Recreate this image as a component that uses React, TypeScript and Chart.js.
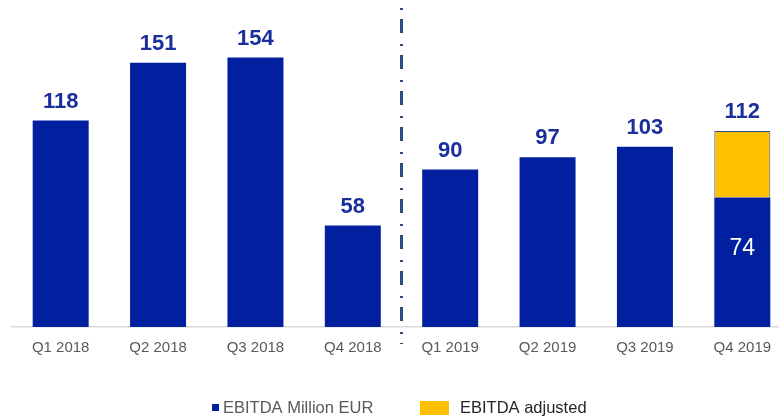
import React, { useEffect, useRef } from 'react';
import { Chart, registerables } from 'chart.js';

Chart.register(...registerables);

const categories = ['Q1 2018', 'Q2 2018', 'Q3 2018', 'Q4 2018', 'Q1 2019', 'Q2 2019', 'Q3 2019', 'Q4 2019'];
const ebitda = [118, 151, 154, 58, 90, 97, 103, 74];
const adjusted = [null, null, null, null, null, null, null, 38];
const totals = [118, 151, 154, 58, 90, 97, 103, 112];
const seriesNames = ['EBITDA Million EUR', 'EBITDA adjusted'];
const innerLabelIndex = 7;
const dividerAfterIndex = 3;

const BLUE = '#00209F';
const YELLOW = '#FFC000';
const LABEL_BLUE = '#1A2F9C';
const FONT = "'Liberation Sans', Arial, sans-serif";

const overlayPlugin = {
  id: 'overlay',
  afterDatasetsDraw(chart: any) {
    const { ctx, chartArea, scales } = chart;
    const xs = scales.x;
    const ys = scales.y;
    const meta0 = chart.getDatasetMeta(0);
    ctx.save();
    // divider
    const dx = (xs.getPixelForValue(dividerAfterIndex) + xs.getPixelForValue(dividerAfterIndex + 1)) / 2;
    ctx.strokeStyle = '#2B4C7E';
    ctx.lineWidth = 3;
    ctx.setLineDash([2, 9, 14, 11]);
    ctx.beginPath();
    ctx.moveTo(dx, 8);
    ctx.lineTo(dx, chartArea.bottom + 17);
    ctx.stroke();
    ctx.setLineDash([]);

    // total labels
    ctx.fillStyle = LABEL_BLUE;
    ctx.font = `bold 22px ${FONT}`;
    ctx.textAlign = 'center';
    ctx.textBaseline = 'alphabetic';
    totals.forEach((v, i) => {
      const x = meta0.data[i].x;
      const y = ys.getPixelForValue(v) - 13;
      ctx.fillText(String(v), x, y);
    });

    // inner label
    const bar = meta0.data[innerLabelIndex];
    ctx.fillStyle = '#FFFFFF';
    ctx.font = `23px ${FONT}`;
    ctx.textBaseline = 'middle';
    ctx.fillText(String(ebitda[innerLabelIndex]), bar.x, (bar.y + bar.base) / 2 - 14);

    // legend
    ctx.textAlign = 'left';
    ctx.textBaseline = 'middle';
    ctx.fillStyle = BLUE;
    ctx.fillRect(212, 404, 7, 7);
    ctx.font = `16.5px ${FONT}`;
    ctx.fillStyle = '#595959';
    ctx.fillText(seriesNames[0], 223, 408);
    ctx.fillStyle = YELLOW;
    ctx.fillRect(420, 401, 29, 14);
    ctx.fillStyle = '#262626';
    ctx.fillText(seriesNames[1], 460, 408);
    ctx.restore();
  },
};

export default function App() {
  const ref = useRef<HTMLCanvasElement>(null);
  useEffect(() => {
    if (!ref.current) return;
    const chart = new Chart(ref.current, {
      type: 'bar',
      data: {
        labels: categories,
        datasets: [
          {
            label: seriesNames[0],
            data: ebitda,
            backgroundColor: BLUE,
            borderWidth: 0,
            categoryPercentage: 1,
            barPercentage: 0.575,
          },
          {
            label: seriesNames[1],
            data: adjusted as any,
            backgroundColor: YELLOW,
            borderColor: '#2F4A9E',
            borderWidth: 1,
            categoryPercentage: 1,
            barPercentage: 0.575,
          },
        ],
      },
      options: {
        responsive: false,
        animation: false,
        devicePixelRatio: 1,
        layout: { padding: { left: 12, right: 1, top: 12, bottom: 0 } },
        plugins: { legend: { display: false }, tooltip: { enabled: false } },
        scales: {
          x: {
            stacked: true,
            grid: { display: false, drawTicks: false },
            border: { display: true, color: '#D9D9D9', width: 1.5 },
            ticks: {
              color: '#595959',
              font: { family: FONT, size: 15 },
              padding: 12,
              maxRotation: 0,
            },
            afterFit: (scale: any) => {
              scale.height = 92;
            },
          },
          y: {
            stacked: true,
            display: false,
            min: 0,
            max: 180,
          },
        },
      },
      plugins: [overlayPlugin],
    });
    return () => chart.destroy();
  }, []);
  return (
    <div style={{ position: 'fixed', left: 0, top: 0, width: 779, height: 419, overflow: 'hidden', background: '#fff' }}>
      <canvas ref={ref} width={792} height={419} style={{ width: 792, height: 419, display: 'block' }} />
    </div>
  );
}
